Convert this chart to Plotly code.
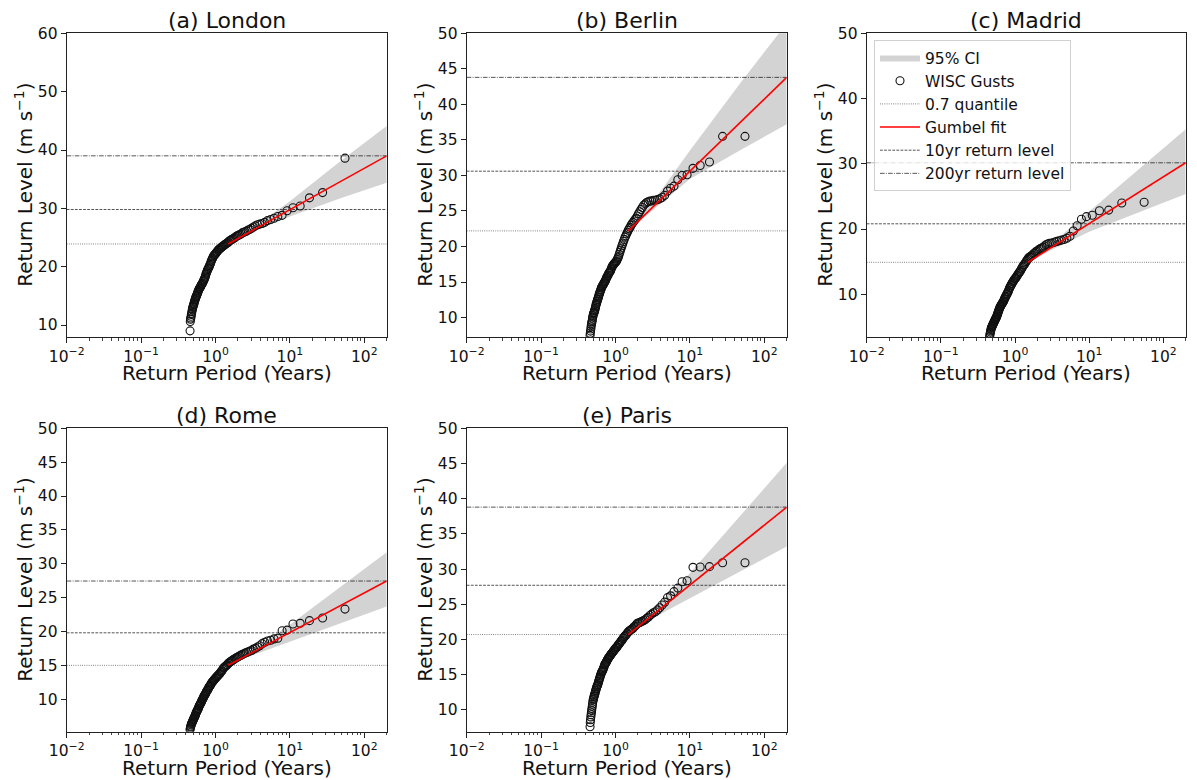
import plotly.graph_objects as go

# ---------------- data ----------------
return_period = [
    55.0, 27.5, 18.33, 13.75, 11.0, 9.167, 7.857, 6.875, 6.111, 5.5,
    5.0, 4.583, 4.231, 3.929, 3.667, 3.438, 3.235, 3.056, 2.895, 2.75,
    2.619, 2.5, 2.391, 2.292, 2.2, 2.115, 2.037, 1.964, 1.897, 1.833,
    1.774, 1.719, 1.667, 1.618, 1.571, 1.528, 1.486, 1.447, 1.41, 1.375,
    1.341, 1.31, 1.279, 1.25, 1.222, 1.196, 1.17, 1.146, 1.122, 1.1,
    1.078, 1.058, 1.038, 1.019, 1.0, 0.982, 0.965, 0.948, 0.932, 0.917,
    0.902, 0.887, 0.873, 0.859, 0.846, 0.833, 0.821, 0.809, 0.797, 0.786,
    0.775, 0.764, 0.753, 0.743, 0.733, 0.724, 0.714, 0.705, 0.696, 0.688,
    0.679, 0.671, 0.663, 0.655, 0.647, 0.64, 0.632, 0.625, 0.618, 0.611,
    0.604, 0.598, 0.591, 0.585, 0.579, 0.573, 0.567, 0.561, 0.556, 0.55,
    0.545, 0.539, 0.534, 0.529, 0.524, 0.519, 0.514, 0.509, 0.505, 0.5,
    0.495, 0.491, 0.487, 0.482, 0.478, 0.474, 0.47, 0.466, 0.462, 0.458,
    0.455]

london_gusts = [
    38.6, 32.7, 31.8, 30.4, 30.1, 29.6, 28.8, 28.6, 28.3, 28.1,
    27.9, 27.6, 27.4, 27.3, 27.2, 27.0, 26.8, 26.6, 26.4, 26.3,
    26.1, 26.0, 25.9, 25.8, 25.6, 25.5, 25.4, 25.3, 25.2, 25.0,
    24.9, 24.8, 24.7, 24.6, 24.5, 24.4, 24.2, 24.1, 24.0, 23.9,
    23.8, 23.7, 23.6, 23.5, 23.4, 23.3, 23.2, 23.1, 23.0, 22.9,
    22.8, 22.6, 22.5, 22.4, 22.2, 22.1, 22.0, 21.9, 21.7, 21.5,
    21.3, 21.1, 20.9, 20.6, 20.4, 20.2, 20.0, 19.8, 19.7, 19.5,
    19.3, 19.1, 18.9, 18.7, 18.4, 18.2, 18.0, 17.8, 17.7, 17.5,
    17.4, 17.2, 17.1, 17.0, 16.9, 16.8, 16.6, 16.5, 16.4, 16.3,
    16.2, 16.1, 15.9, 15.8, 15.6, 15.5, 15.3, 15.1, 15.0, 14.9,
    14.8, 14.6, 14.4, 14.3, 14.1, 13.9, 13.7, 13.5, 13.4, 13.2,
    13.0, 12.8, 12.6, 12.3, 12.0, 11.8, 11.5, 11.2, 11.0, 10.6,
    9.0]

berlin_gusts = [
    35.5, 35.5, 31.9, 31.4, 31.0, 30.1, 30.0, 29.4, 28.5, 28.2,
    27.8, 27.2, 26.9, 26.7, 26.6, 26.5, 26.5, 26.4, 26.4, 26.3,
    26.2, 26.0, 25.8, 25.5, 25.2, 24.9, 24.6, 24.3, 24.0, 23.8,
    23.6, 23.4, 23.2, 23.0, 22.7, 22.5, 22.3, 22.0, 21.8, 21.5,
    21.3, 21.0, 20.7, 20.4, 20.1, 19.8, 19.5, 19.2, 18.9, 18.6,
    18.4, 18.2, 18.0, 17.9, 17.8, 17.7, 17.6, 17.5, 17.4, 17.3,
    17.2, 17.0, 16.8, 16.6, 16.5, 16.4, 16.3, 16.2, 16.0, 15.9,
    15.8, 15.7, 15.5, 15.4, 15.2, 15.1, 15.0, 14.9, 14.8, 14.7,
    14.6, 14.5, 14.4, 14.3, 14.2, 14.0, 13.9, 13.7, 13.6, 13.4,
    13.3, 13.1, 12.9, 12.8, 12.6, 12.5, 12.3, 12.2, 12.0, 11.9,
    11.7, 11.5, 11.3, 11.1, 11.0, 10.8, 10.7, 10.6, 10.5, 10.3,
    10.1, 9.9, 9.6, 9.4, 9.2, 9.0, 8.7, 8.4, 8.1, 7.8,
    7.5]

madrid_gusts = [
    24.1, 24.0, 22.9, 22.8, 22.1, 21.9, 21.5, 20.5, 19.7, 18.9,
    18.6, 18.4, 18.3, 18.2, 18.1, 18.0, 17.9, 17.8, 17.8, 17.7,
    17.6, 17.4, 17.2, 17.1, 17.0, 16.9, 16.7, 16.6, 16.5, 16.3,
    16.2, 16.0, 15.9, 15.8, 15.7, 15.6, 15.4, 15.2, 15.0, 14.8,
    14.6, 14.5, 14.3, 14.1, 13.9, 13.7, 13.5, 13.4, 13.2, 13.1,
    12.9, 12.8, 12.6, 12.5, 12.4, 12.3, 12.1, 12.0, 11.9, 11.7,
    11.6, 11.4, 11.3, 11.1, 11.0, 10.8, 10.6, 10.4, 10.3, 10.1,
    10.0, 9.9, 9.7, 9.6, 9.5, 9.3, 9.2, 9.0, 8.9, 8.8,
    8.7, 8.6, 8.5, 8.4, 8.3, 8.2, 8.1, 8.0, 7.8, 7.7,
    7.5, 7.4, 7.2, 7.1, 6.9, 6.8, 6.6, 6.5, 6.4, 6.3,
    6.2, 6.1, 6.0, 5.9, 5.8, 5.7, 5.6, 5.5, 5.4, 5.3,
    5.2, 5.1, 5.0, 4.9, 4.8, 4.6, 4.4, 4.2, 4.0, 3.8,
    3.5]

rome_gusts = [
    23.3, 22.0, 21.6, 21.2, 21.1, 20.2, 20.1, 19.0, 18.9, 18.7,
    18.6, 18.4, 18.2, 17.9, 17.7, 17.5, 17.4, 17.2, 17.1, 17.0,
    16.9, 16.8, 16.7, 16.6, 16.5, 16.4, 16.3, 16.2, 16.1, 16.0,
    15.9, 15.8, 15.7, 15.6, 15.5, 15.4, 15.3, 15.1, 15.0, 14.9,
    14.8, 14.7, 14.6, 14.4, 14.2, 14.1, 14.0, 13.8, 13.7, 13.6,
    13.5, 13.4, 13.3, 13.2, 13.1, 13.0, 12.9, 12.8, 12.7, 12.6,
    12.5, 12.4, 12.3, 12.1, 12.0, 11.9, 11.8, 11.7, 11.5, 11.4,
    11.3, 11.2, 11.1, 10.9, 10.8, 10.7, 10.6, 10.5, 10.4, 10.2,
    10.1, 10.0, 9.9, 9.8, 9.6, 9.5, 9.4, 9.3, 9.2, 9.1,
    9.0, 8.9, 8.7, 8.6, 8.5, 8.4, 8.3, 8.2, 8.1, 8.0,
    7.9, 7.7, 7.6, 7.5, 7.4, 7.3, 7.2, 7.1, 7.0, 6.9,
    6.8, 6.7, 6.6, 6.5, 6.4, 6.3, 6.2, 6.0, 5.9, 5.7,
    5.5]

paris_gusts = [
    30.9, 30.9, 30.35, 30.3, 30.25, 28.35, 28.2, 27.3, 26.8, 26.2,
    25.95, 25.3, 24.9, 24.5, 24.2, 23.95, 23.8, 23.6, 23.4, 23.15,
    23.0, 22.8, 22.7, 22.6, 22.5, 22.4, 22.35, 22.3, 22.1, 21.9,
    21.8, 21.6, 21.5, 21.4, 21.3, 21.2, 21.1, 20.9, 20.8, 20.6,
    20.5, 20.4, 20.2, 20.1, 19.9, 19.8, 19.7, 19.5, 19.4, 19.3,
    19.2, 19.0, 18.9, 18.8, 18.75, 18.6, 18.5, 18.4, 18.3, 18.2,
    18.1, 18.0, 17.9, 17.8, 17.7, 17.6, 17.5, 17.4, 17.3, 17.2,
    17.1, 16.9, 16.8, 16.7, 16.6, 16.5, 16.4, 16.2, 16.0, 15.9,
    15.7, 15.6, 15.5, 15.4, 15.3, 15.1, 15.0, 14.8, 14.6, 14.5,
    14.3, 14.1, 14.0, 13.8, 13.6, 13.5, 13.4, 13.3, 13.1, 13.0,
    12.8, 12.7, 12.5, 12.3, 12.2, 12.0, 11.9, 11.7, 11.5, 11.4,
    11.1, 10.8, 10.5, 10.2, 9.9, 9.6, 9.3, 9.0, 8.6, 8.2,
    7.6]

panel_titles = ["(a) London", "(b) Berlin", "(c) Madrid", "(d) Rome", "(e) Paris"]
quantile_07 = [23.9, 22.2, 14.9, 15.0, 20.7]
return_level_10yr = [29.8, 30.6, 20.8, 19.8, 27.7]
return_level_200yr = [39.0, 43.8, 30.15, 27.45, 38.8]

fit_period = [1.486, 200.0]          # Gumbel fit drawn from threshold to 200 yr
ci_period = [1.486, 3.0, 10.0, 50.0, 200.0]
ci_upper = [
    [24.0, 26.5, 31.2, 38.3, 44.1],
    [22.4, 25.9, 33.5, 43.3, 51.4],
    [15.0, 17.6, 22.7, 29.5, 35.3],
    [15.1, 17.2, 21.0, 26.8, 31.7],
    [20.8, 23.8, 29.4, 37.9, 45.1],
]
ci_lower = [
    [23.8, 25.8, 28.6, 31.8, 34.4],
    [22.2, 24.9, 29.5, 33.7, 37.2],
    [14.8, 16.7, 19.6, 22.7, 25.35],
    [14.9, 16.4, 18.5, 21.3, 23.7],
    [20.6, 22.9, 25.9, 29.8, 33.2],
]

y_ranges = [[7.95, 60], [7.27, 50], [3.45, 50], [5.2, 50], [6.9, 50]]
y_dticks = [10, 5, 10, 5, 5]
x_span = [0.01, 200.0]
x_tick_vals = [0.01, 0.1, 1, 10, 100]
x_tick_text = ["10<sup>\u22122</sup>", "10<sup>\u22121</sup>", "10<sup>0</sup>",
               "10<sup>1</sup>", "10<sup>2</sup>"]

gust_series = [london_gusts, berlin_gusts, madrid_gusts, rome_gusts, paris_gusts]

# ---------------- layout geometry ----------------
# the page body has an 8 px margin, so the figure is made 8 px smaller and
# every screen position below is shifted by that offset
OFF = 8
W, H = 1197 - OFF, 780 - OFF
col_px = [(66.7, 386.7), (466.7, 786.7), (866.7, 1185.7)]
row_px = [(33.3, 337.0), (428.3, 731.7)]
positions = [(0, 0), (0, 1), (0, 2), (1, 0), (1, 1)]


def px(xs):
    return (xs - OFF) / W


def py(ys):
    return 1 - (ys - OFF) / H


FONT = "DejaVu Sans"
fig = go.Figure()

DOT = "0.9px,1.3px"
DASH = "2.8px,1.3px"
DASHDOT = "4.6px,1.3px,0.9px,1.3px"
LINE_COL = "rgba(0,0,0,0.75)"

minor_vals = [m * 10.0 ** e for e in range(-2, 3) for m in range(2, 10) if m * 10.0 ** e <= 200]

annotations = []
for k in range(5):
    r, c = positions[k]
    xa = "x" if k == 0 else f"x{k+1}"
    ya = "y" if k == 0 else f"y{k+1}"
    show = (k == 2)

    # CI band
    fig.add_trace(go.Scatter(
        x=ci_period + ci_period[::-1],
        y=ci_upper[k] + ci_lower[k][::-1],
        fill="toself", fillcolor="#d3d3d3", line=dict(width=0),
        mode="lines", name="95% CI", showlegend=show, legendrank=1,
        legendgroup="g1", xaxis=xa, yaxis=ya, hoverinfo="skip"))
    # horizontal reference lines
    fig.add_trace(go.Scatter(
        x=x_span, y=[quantile_07[k]] * 2, mode="lines",
        line=dict(color="rgba(0,0,0,0.6)", width=0.9, dash=DOT),
        name="0.7 quantile", showlegend=show, legendrank=3, legendgroup="g3",
        xaxis=xa, yaxis=ya))
    fig.add_trace(go.Scatter(
        x=x_span, y=[return_level_10yr[k]] * 2, mode="lines",
        line=dict(color=LINE_COL, width=0.9, dash=DASH),
        name="10yr return level", showlegend=show, legendrank=5, legendgroup="g5",
        xaxis=xa, yaxis=ya))
    fig.add_trace(go.Scatter(
        x=x_span, y=[return_level_200yr[k]] * 2, mode="lines",
        line=dict(color=LINE_COL, width=0.9, dash=DASHDOT),
        name="200yr return level", showlegend=show, legendrank=6, legendgroup="g6",
        xaxis=xa, yaxis=ya))
    # data
    fig.add_trace(go.Scatter(
        x=return_period, y=gust_series[k], mode="markers",
        marker=dict(symbol="circle-open", size=8, color="#111",
                    line=dict(width=1.1, color="#111")),
        name="WISC Gusts", showlegend=show, legendrank=2, legendgroup="g2",
        xaxis=xa, yaxis=ya))
    # Gumbel fit
    fig.add_trace(go.Scatter(
        x=fit_period, y=[quantile_07[k], return_level_200yr[k]], mode="lines",
        line=dict(color="red", width=1.6),
        name="Gumbel fit", showlegend=show, legendrank=4, legendgroup="g4",
        xaxis=xa, yaxis=ya))

    x0, x1 = col_px[c]
    y0, y1 = row_px[r]
    axis_common = dict(showline=True, linecolor="#222", linewidth=1, mirror=True,
                       ticks="outside", ticklen=5, tickwidth=1, tickcolor="#222",
                       showgrid=False, zeroline=False, automargin=False,
                       tickfont=dict(family=FONT, size=15.5, color="#111"))
    fig.layout[("xaxis" if k == 0 else f"xaxis{k+1}")] = dict(
        domain=[px(x0), px(x1)], anchor=ya, type="log",
        range=[-2, 2.30103], tickmode="array", tickvals=x_tick_vals, ticktext=x_tick_text,
        minor=dict(ticks="outside", ticklen=2.5, tickwidth=0.8, tickcolor="#444",
                   tickmode="array", tickvals=minor_vals, showgrid=False),
        **axis_common)
    fig.layout[("yaxis" if k == 0 else f"yaxis{k+1}")] = dict(
        domain=[py(y1), py(y0)], anchor=xa,
        range=y_ranges[k], tick0=0, dtick=y_dticks[k], **axis_common)

    xc = (x0 + x1) / 2
    annotations.append(dict(text=panel_titles[k], x=px(xc), y=py(y0 - 13),
                            xref="paper", yref="paper", showarrow=False,
                            xanchor="center", yanchor="middle",
                            font=dict(family=FONT, size=22, color="#111")))
    annotations.append(dict(text="Return Period (Years)", x=px(xc), y=py(y1 + 36),
                            xref="paper", yref="paper", showarrow=False,
                            xanchor="center", yanchor="middle",
                            font=dict(family=FONT, size=20, color="#111")))
    annotations.append(dict(text="Return Level (m s<sup>\u22121</sup>)",
                            x=px(x0 - 43), y=py((y0 + y1) / 2),
                            xref="paper", yref="paper", showarrow=False, textangle=-90,
                            xanchor="center", yanchor="middle",
                            font=dict(family=FONT, size=20, color="#111")))

fig.update_layout(
    template="none",
    width=W, height=H, margin=dict(l=0, r=0, t=0, b=0, pad=0, autoexpand=False),
    plot_bgcolor="white", paper_bgcolor="white",
    font=dict(family=FONT, color="#111"),
    annotations=annotations,
    legend=dict(x=px(874), y=py(40), xanchor="left", yanchor="top",
                bgcolor="rgba(255,255,255,0.8)", bordercolor="#d0d0d0", borderwidth=1,
                font=dict(family=FONT, size=15.5, color="#111"),
                traceorder="grouped", tracegroupgap=0, itemwidth=40),
)

fig.write_html("out.html")
